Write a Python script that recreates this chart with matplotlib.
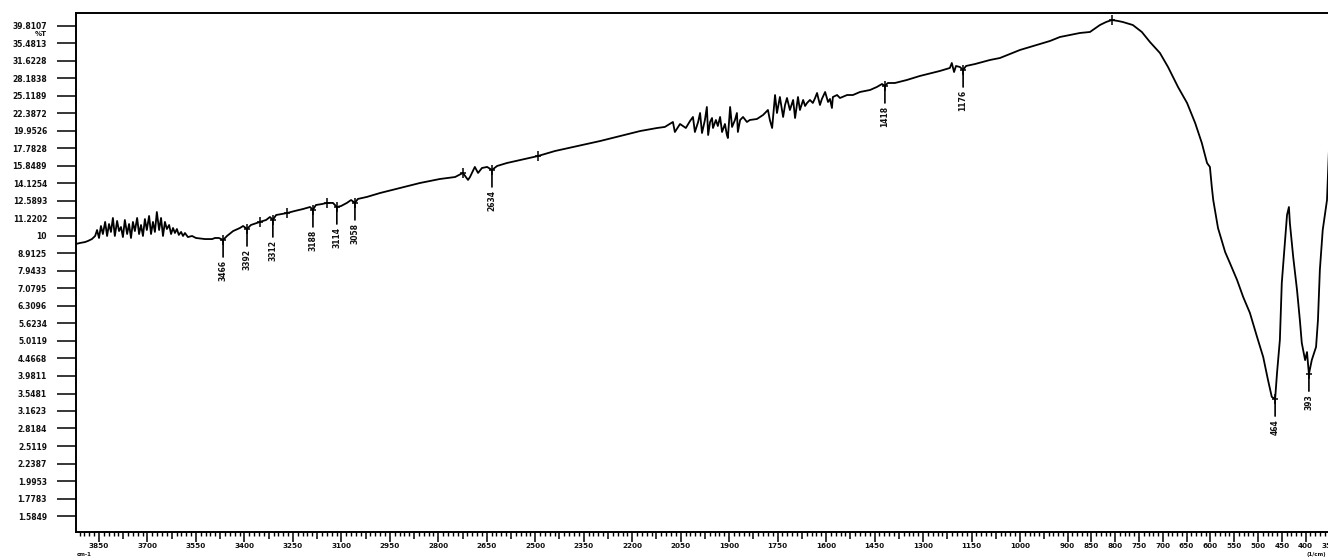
import numpy as np
import matplotlib
matplotlib.use("Agg")
import matplotlib.pyplot as plt
from matplotlib.path import Path
from matplotlib.ticker import FixedLocator, NullLocator

# ---- spectrum (wavenumber in cm-1, transmittance in %T) ----
wavenumber = [
    3921, 3909, 3893, 3884, 3872, 3862, 3856, 3850, 3844, 3838, 3831, 3825, 3819, 3813,
    3807, 3801, 3794, 3788, 3782, 3776, 3770, 3763, 3757, 3751, 3745, 3739, 3732, 3726,
    3720, 3714, 3708, 3702, 3695, 3689, 3683, 3677, 3671, 3664, 3658, 3652, 3646, 3640,
    3633, 3627, 3621, 3615, 3609, 3603, 3596, 3590, 3584, 3575, 3562, 3550, 3522, 3500,
    3491, 3479, 3466, 3454, 3435, 3414, 3404, 3392, 3380, 3352, 3333, 3321, 3312, 3302,
    3284, 3268, 3244, 3219, 3197, 3188, 3179, 3160, 3145, 3126, 3114, 3101, 3083, 3070,
    3058, 3049, 3021, 2980, 2919, 2857, 2795, 2748, 2724, 2708, 2702, 2687, 2677, 2665,
    2649, 2634, 2618, 2588, 2547, 2492, 2439, 2382, 2299, 2237, 2175, 2123, 2099, 2074,
    2068, 2052, 2034, 2021, 2012, 2006, 1996, 1990, 1984, 1975, 1969, 1965, 1959, 1953,
    1950, 1941, 1935, 1928, 1922, 1913, 1907, 1904, 1897, 1891, 1882, 1876, 1873, 1866,
    1857, 1845, 1836, 1814, 1795, 1780, 1774, 1767, 1758, 1752, 1743, 1733, 1727, 1721,
    1712, 1702, 1696, 1687, 1681, 1671, 1665, 1659, 1650, 1641, 1634, 1628, 1619, 1613,
    1603, 1594, 1588, 1582, 1579, 1566, 1557, 1535, 1517, 1495, 1464, 1443, 1427, 1418,
    1409, 1387, 1350, 1310, 1248, 1217, 1211, 1204, 1198, 1186, 1176, 1167, 1139, 1093,
    1062, 1031, 1000, 979, 958, 937, 916, 895, 874, 853, 832, 819, 807, 794,
    784, 763, 744, 727, 706, 689, 668, 649, 632, 618, 607, 601, 597, 594,
    584, 569, 559, 544, 531, 517, 502, 489, 479, 471, 464, 460, 454, 450,
    443, 439, 435, 433, 426, 418, 412, 408, 401, 397, 393, 387, 378, 374,
    370, 364, 355, 351, 345,
]
transmittance = [
    9.49, 9.55, 9.61, 9.68, 9.80, 10.00, 10.40, 9.87, 10.68, 10.13, 10.97, 10.00, 10.82, 10.27,
    11.26, 10.00, 11.04, 10.33, 10.61, 9.93, 11.11, 10.13, 10.82, 9.87, 10.97, 10.33, 11.26, 10.13,
    10.75, 10.00, 11.18, 10.40, 11.41, 10.13, 10.97, 10.27, 11.71, 10.40, 11.26, 10.00, 10.97, 10.47,
    10.75, 10.13, 10.54, 10.20, 10.47, 10.07, 10.27, 10.00, 10.20, 9.93, 10.00, 9.87, 9.80, 9.80,
    9.87, 9.87, 9.74, 10.00, 10.33, 10.54, 10.68, 10.47, 10.75, 10.97, 11.11, 11.33, 11.11, 11.48,
    11.56, 11.63, 11.79, 11.94, 12.10, 11.87, 12.26, 12.34, 12.43, 12.43, 12.10, 12.18, 12.43, 12.67,
    12.43, 12.76, 12.93, 13.27, 13.71, 14.17, 14.55, 14.74, 15.14, 14.46, 14.74, 15.75, 15.14, 15.64,
    15.75, 15.44, 15.85, 16.16, 16.48, 16.92, 17.49, 17.96, 18.68, 19.30, 19.95, 20.35, 20.49, 21.17,
    19.82, 20.89, 20.35, 21.31, 21.88, 19.82, 21.17, 22.46, 19.69, 21.45, 23.37, 19.43, 21.17, 21.73,
    20.35, 21.45, 20.62, 21.88, 19.82, 20.89, 19.43, 19.05, 23.37, 20.49, 21.45, 22.46, 19.82, 21.45,
    21.88, 21.17, 21.45, 21.59, 22.17, 22.91, 21.45, 20.35, 25.28, 22.46, 24.95, 21.88, 23.68, 24.79,
    22.91, 24.47, 21.73, 24.95, 22.91, 24.47, 23.52, 23.99, 24.47, 23.99, 24.79, 25.62, 23.68, 24.63,
    25.79, 24.15, 24.63, 23.21, 24.95, 25.28, 24.79, 25.28, 25.28, 25.79, 26.13, 26.65, 27.18, 26.83,
    27.36, 27.36, 27.91, 28.65, 29.61, 30.20, 31.21, 29.41, 30.60, 30.40, 29.80, 30.60, 31.00, 31.83,
    32.25, 33.11, 34.00, 34.67, 35.36, 36.07, 37.03, 37.52, 38.02, 38.27, 40.07, 40.87, 41.41, 41.14,
    40.87, 40.07, 38.27, 35.83, 33.33, 30.40, 26.65, 23.99, 21.03, 18.44, 16.16, 15.75, 13.80, 12.67,
    10.54, 9.00, 8.37, 7.49, 6.69, 6.03, 5.15, 4.51, 3.88, 3.47, 3.42, 4.06, 5.05, 7.34,
    9.74, 11.48, 12.10, 10.89, 8.71, 7.01, 5.75, 4.95, 4.42, 4.66, 4.03, 4.42, 4.82, 5.75,
    8.00, 10.40, 12.67, 17.61, 22.91,
]

# picked peaks (labelled) and other marked points
labelled_peaks = [3466, 3392, 3312, 3188, 3114, 3058, 2634, 1418, 1176, 464, 393]
marked_points = [3352, 3268, 3145, 2724, 2492, 807]

# axis ticks
x_major = [3850, 3700, 3550, 3400, 3250, 3100, 2950, 2800, 2650, 2500, 2350, 2200, 2050,
           1900, 1750, 1600, 1450, 1300, 1150, 1000,
           900, 850, 800, 750, 700, 650, 600, 550, 500, 450, 400, 350]
x_medium = [3775, 3625, 3475, 3325, 3175, 3025, 2875, 2725, 2575, 2425, 2275, 2125, 1975,
            1825, 1675, 1525, 1375, 1225, 1075, 950]
y_ticks = [1.5849, 1.7783, 1.9953, 2.2387, 2.5119, 2.8184, 3.1623, 3.5481, 3.9811, 4.4668,
           5.0119, 5.6234, 6.3096, 7.0795, 7.9433, 8.9125, 10.0, 11.2202, 12.5893, 14.1254,
           15.8489, 17.7828, 19.9526, 22.3872, 25.1189, 28.1838, 31.6228, 35.4813, 39.8107]

assert len(wavenumber) == len(transmittance)

# ---- piecewise-linear wavenumber axis (expanded below 1000 cm-1) ----
RATE_HI = 0.32316   # axis units per cm-1 above 1000
RATE_LO = 0.476     # axis units per cm-1 below 1000
BREAK_U = (4000 - 1000) * RATE_HI


def _forward(w):
    w = np.asarray(w, dtype=float)
    u = np.where(w >= 1000, (4000 - w) * RATE_HI, BREAK_U + (1000 - w) * RATE_LO)
    return -u


def _inverse(t):
    u = -np.asarray(t, dtype=float)
    return np.where(u <= BREAK_U, 4000 - u / RATE_HI, 1000 - (u - BREAK_U) / RATE_LO)


W, H = 1328, 557
fig = plt.figure(figsize=(W / 100, H / 100), dpi=100)
ax = fig.add_axes([76.06 / W, 25 / H, 1262.84 / W, 519 / H])

ax.set_xscale("function", functions=(_forward, _inverse))
ax.set_yscale("log")

ax.plot(wavenumber, transmittance, color="black", lw=1.3)

ax.set_xlim(3921, 330)
ax.set_ylim(1.4266, 43.36)

lookup = dict(zip(wavenumber, transmittance))

cross = Path([(-0.55, 0), (0.55, 0), (0, -1), (0, 1)],
             [Path.MOVETO, Path.LINETO, Path.MOVETO, Path.LINETO])
all_marked = labelled_peaks + marked_points
ax.plot(all_marked, [lookup[w] for w in all_marked], linestyle="none",
        marker=cross, ms=7.5, mew=1.1, color="black")

lab_font = dict(fontsize=5.5, fontweight="bold", color="#111111")
for w in labelled_peaks:
    t = lookup[w]
    ax.annotate("", xy=(w, t), xytext=(0, -17), textcoords="offset pixels",
                arrowprops=dict(arrowstyle="-", lw=1.2, color="black",
                                shrinkA=0, shrinkB=0))
    ax.annotate(f"{w:d}", xy=(w, t), xytext=(0, -20), textcoords="offset pixels",
                rotation=90, ha="center", va="top", **lab_font)

# frame
ax.spines["right"].set_visible(False)
for side in ("left", "top", "bottom"):
    ax.spines[side].set_linewidth(1.4)

# x ticks
ax.set_xticks(x_major)
ax.set_xticklabels([str(v) for v in x_major], fontsize=5.2, fontweight="bold",
                   color="#111111")
minor = [v for v in np.arange(3910, 1000, -15) if (3850 - v) % 75 != 0]
minor += [v for v in np.arange(990, 330, -10) if v % 50 != 0]
ax.xaxis.set_minor_locator(FixedLocator(minor))
ax.tick_params(axis="x", which="major", direction="out", length=7.2, width=1.1, pad=0.6)
ax.tick_params(axis="x", which="minor", direction="out", length=3.0, width=1.0)
for xm in x_medium:
    ax.plot([xm, xm], [0, -7 / 519], transform=ax.get_xaxis_transform(),
            color="black", lw=1.1, clip_on=False, solid_capstyle="butt")

# y ticks
ax.set_yticks(y_ticks)
ax.set_yticklabels([f"{v:.4f}".rstrip("0").rstrip(".") for v in y_ticks], **lab_font)
ax.yaxis.set_minor_locator(NullLocator())
ax.tick_params(axis="y", which="major", direction="out", length=13.7, width=1.1, pad=7.2)

small_font = dict(fontsize=4, fontweight="bold", color="#111111")
fig.text(47 / W, 1 - 34 / H, "%T", ha="right", va="center", fontsize=5,
         fontweight="bold", color="#111111")
fig.text(77 / W, 0.0, "cm-1", ha="left", va="bottom", **small_font)
fig.text(1326 / W, 0.0, "(1/cm)", ha="right", va="bottom", **small_font)

fig.savefig("out.png", dpi=100)
